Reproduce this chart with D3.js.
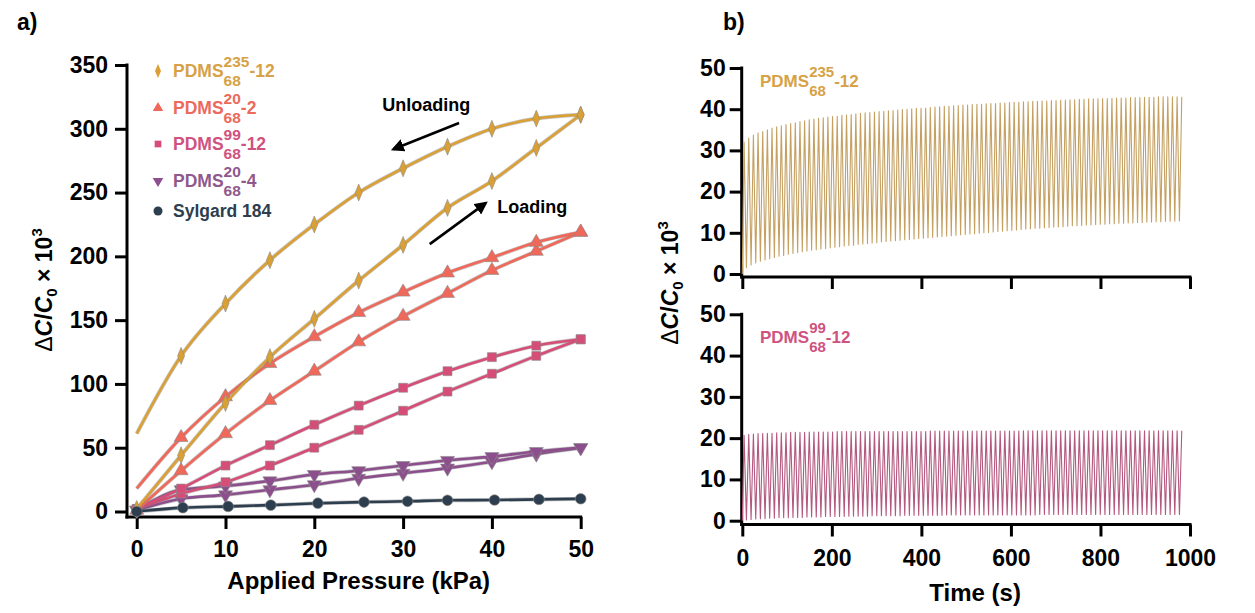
<!DOCTYPE html>
<html>
<head>
<meta charset="utf-8">
<script src="https://cdn.jsdelivr.net/npm/d3@7"></script>
<style>
  body { margin: 0; background: #fff; }
  text { font-family: Arial, "Liberation Sans", Helvetica, sans-serif; }
</style>
</head>
<body>
<svg id="fig" width="1255" height="613"></svg>
<script>
// ---- panel a) data: capacitance change vs pressure ----
const pressureKPa = [0, 5, 10, 15, 20, 25, 30, 35, 40, 45, 50];
const sylgardPressure = [0, 5.2, 10.3, 15.1, 20.4, 25.6, 30.5, 35, 40.3, 45.3, 50];

const pdms235Loading   = [2, 44, 85, 121, 151, 181, 209, 238, 259, 285, 311];
const pdms235Unloading = [61, 122, 163, 197, 225, 250, 269, 286, 300, 308, 311];
const pdms20x2Loading   = [1, 32, 61, 87, 110, 133, 153, 171, 189, 204, 219];
const pdms20x2Unloading = [18, 58, 90, 116, 137, 156, 172, 187, 199, 211, 219];
const pdms99Loading   = [2, 14, 23, 36, 50, 64, 79, 94, 108, 122, 135];
const pdms99Unloading = [2, 18, 36, 52, 68, 83, 97, 110, 121, 130, 135];
const pdms20x4Loading   = [1, 10, 13, 17, 21, 26, 30, 34, 39, 45, 50];
const pdms20x4Unloading = [1, 17, 20, 24, 29, 32, 36, 40, 43, 47, 50];
const sylgardValues = [0, 3, 4, 5, 6.5, 7.4, 8, 8.8, 9, 9.5, 10];

const pressureTicks = [0, 10, 20, 30, 40, 50];
const dcTicksA = [0, 50, 100, 150, 200, 250, 300, 350];

// ---- panel b) data: cyclic loading, per-cycle peaks and troughs ----
const cycleStart = 4;      // s, first peak
const cyclePeriod = 10.4;  // s
const timeTicks = [0, 200, 400, 600, 800, 1000];
const dcTicksB = [0, 10, 20, 30, 40, 50];

const pdms235Peaks = [
  32.0, 33.0, 33.7, 34.2, 34.6, 35.0, 35.4, 35.7, 36.0, 36.3,
  36.5, 36.7, 37.0, 37.2, 37.4, 37.6, 37.8, 37.9, 38.1, 38.2,
  38.3, 38.5, 38.6, 38.7, 38.9, 39.0, 39.1, 39.2, 39.3, 39.4,
  39.5, 39.6, 39.7, 39.8, 39.9, 40.0, 40.1, 40.2, 40.2, 40.3,
  40.4, 40.5, 40.6, 40.7, 40.7, 40.8, 40.9, 41.0, 41.0, 41.1,
  41.2, 41.2, 41.3, 41.4, 41.4, 41.5, 41.5, 41.6, 41.7, 41.7,
  41.8, 41.8, 41.9, 41.9, 42.0, 42.0, 42.1, 42.1, 42.2, 42.2,
  42.3, 42.3, 42.4, 42.4, 42.5, 42.5, 42.5, 42.6, 42.6, 42.6,
  42.7, 42.7, 42.7, 42.8, 42.8, 42.8, 42.9, 42.9, 42.9, 43.0,
  43.0, 43.0, 43.0, 43.0, 43.0
];
const pdms235Troughs = [
  1.5, 2.2, 2.7, 3.1, 3.4, 3.7, 4.0, 4.3, 4.5, 4.8,
  5.0, 5.2, 5.4, 5.6, 5.8, 5.9, 6.1, 6.2, 6.4, 6.5,
  6.6, 6.8, 6.9, 7.0, 7.2, 7.3, 7.4, 7.5, 7.6, 7.8,
  7.9, 8.0, 8.1, 8.2, 8.3, 8.4, 8.5, 8.6, 8.7, 8.8,
  8.9, 9.0, 9.1, 9.2, 9.3, 9.4, 9.5, 9.6, 9.7, 9.8,
  9.9, 10.0, 10.1, 10.2, 10.3, 10.4, 10.5, 10.6, 10.7, 10.8,
  10.9, 11.0, 11.1, 11.1, 11.2, 11.3, 11.4, 11.4, 11.5, 11.6,
  11.7, 11.7, 11.8, 11.9, 11.9, 12.0, 12.1, 12.1, 12.2, 12.2,
  12.3, 12.3, 12.4, 12.4, 12.5, 12.5, 12.6, 12.6, 12.7, 12.7,
  12.8, 12.8, 12.8, 12.9, 12.9
];
const pdms99Peaks = [
  20.7, 20.9, 21.0, 21.1, 21.1, 21.2, 21.2, 21.3, 21.3, 21.3,
  21.4, 21.4, 21.4, 21.4, 21.5, 21.5, 21.5, 21.5, 21.5, 21.5,
  21.6, 21.6, 21.6, 21.6, 21.6, 21.6, 21.6, 21.6, 21.6, 21.6,
  21.6, 21.6, 21.6, 21.6, 21.6, 21.6, 21.6, 21.6, 21.6, 21.6,
  21.7, 21.7, 21.7, 21.7, 21.7, 21.7, 21.7, 21.7, 21.7, 21.7,
  21.7, 21.7, 21.7, 21.7, 21.7, 21.7, 21.7, 21.7, 21.7, 21.7,
  21.8, 21.8, 21.8, 21.8, 21.8, 21.8, 21.8, 21.8, 21.8, 21.8,
  21.8, 21.8, 21.8, 21.8, 21.8, 21.8, 21.8, 21.8, 21.8, 21.8,
  21.8, 21.8, 21.8, 21.8, 21.8, 21.8, 21.8, 21.8, 21.8, 21.8,
  21.8, 21.8, 21.8, 21.8, 21.8
];
const pdms99Troughs = [
  0.2, 0.3, 0.4, 0.5, 0.5, 0.6, 0.6, 0.7, 0.7, 0.7,
  0.8, 0.8, 0.8, 0.9, 0.9, 0.9, 0.9, 1.0, 1.0, 1.0,
  1.0, 1.0, 1.1, 1.1, 1.1, 1.1, 1.1, 1.2, 1.2, 1.2,
  1.2, 1.2, 1.2, 1.2, 1.3, 1.3, 1.3, 1.3, 1.3, 1.3,
  1.3, 1.3, 1.3, 1.4, 1.4, 1.4, 1.4, 1.4, 1.4, 1.4,
  1.4, 1.4, 1.4, 1.4, 1.4, 1.4, 1.4, 1.4, 1.4, 1.4,
  1.4, 1.4, 1.4, 1.5, 1.5, 1.5, 1.5, 1.5, 1.5, 1.5,
  1.5, 1.5, 1.5, 1.5, 1.5, 1.5, 1.5, 1.5, 1.5, 1.5,
  1.5, 1.5, 1.5, 1.5, 1.5, 1.5, 1.5, 1.5, 1.5, 1.5,
  1.5, 1.5, 1.5, 1.5, 1.5
];

const colors = {
  p235: '#dba034', p20x2: '#f0685a', p99: '#d64d78', p20x4: '#8c4e8c', syl: '#2d3e4e'
};
const textColors = {
  p235: '#d6a245', p20x2: '#ec6a5c', p99: '#cf5280', p20x4: '#8f598d', syl: '#2e3e4e'
};

const svg = d3.select('#fig');

// ---------- helpers ----------
function styleAxis(g, size) {
  g.select('.domain').remove();
  g.selectAll('.tick line').attr('stroke', '#000').attr('stroke-width', 3);
  g.selectAll('.tick text')
    .attr('fill', '#000')
    .attr('font-size', size)
    .attr('font-weight', 'bold')
    .attr('font-family', 'Arial, "Liberation Sans", sans-serif');
}

function axisLine(x1, y1, x2, y2) {
  svg.append('line')
    .attr('x1', x1).attr('y1', y1).attr('x2', x2).attr('y2', y2)
    .attr('stroke', '#000').attr('stroke-width', 3).attr('stroke-linecap', 'square');
}

function yLabel(x, y) {
  const t = svg.append('text')
    .attr('transform', `translate(${x},${y}) rotate(-90)`)
    .attr('text-anchor', 'middle')
    .attr('font-size', 23)
    .attr('font-weight', 'bold')
    .attr('fill', '#000');
  t.append('tspan').attr('font-weight', 'normal').text('\u0394');
  t.append('tspan').attr('font-style', 'italic').text('C');
  t.append('tspan').text('/');
  t.append('tspan').attr('font-style', 'italic').text('C');
  t.append('tspan').attr('font-size', 15).attr('dy', 5).text('0');
  t.append('tspan').attr('dy', -5).text(' \u00d7 10');
  t.append('tspan').attr('font-size', 15).attr('dy', -10).text('3');
}

// PDMS with stacked super/subscript
function chemLabel(x, y, sup, sub, suffix, color, size, subSize) {
  const g = svg.append('g')
    .attr('fill', color)
    .attr('font-weight', 'bold');
  const main = g.append('text').attr('x', x).attr('y', y).attr('font-size', size).text('PDMS');
  const w = main.node().getComputedTextLength();
  const s1 = g.append('text').attr('x', x + w).attr('y', y - size * 0.56)
    .attr('font-size', subSize).text(sup);
  const s2 = g.append('text').attr('x', x + w).attr('y', y + size * 0.5)
    .attr('font-size', subSize).text(sub);
  const w2 = Math.max(s1.node().getComputedTextLength(), s2.node().getComputedTextLength());
  g.append('text').attr('x', x + w + w2).attr('y', y).attr('font-size', size).text(suffix);
}

// marker shapes
function diamondPath(w, h) {
  return `M0,${-h / 2}L${w / 2},0L0,${h / 2}L${-w / 2},0Z`;
}
const markerPaths = {
  diamond: (s) => diamondPath(7 * s, 17 * s),
  triUp: (s) => d3.symbol(d3.symbolTriangle, 85 * s * s)(),
  square: (s) => d3.symbol(d3.symbolSquare, 80 * s * s)(),
  triDown: (s) => d3.symbol(d3.symbolTriangle, 85 * s * s)(),
  circle: (s) => d3.symbol(d3.symbolCircle, 90 * s * s)()
};

// ---------- panel a ----------
const xA = d3.scaleLinear().domain([0, 50]).range([136.7, 580.7]);
const yA = d3.scaleLinear().domain([0, 350]).range([511.5, 65]);

axisLine(127, yA(350), 127, 517);
axisLine(127, 517, xA(50), 517);

svg.append('g')
  .attr('transform', 'translate(127,0)')
  .call(d3.axisLeft(yA).tickValues(dcTicksA).tickSize(12).tickPadding(7))
  .call(g => styleAxis(g, 23));

svg.append('g')
  .attr('transform', 'translate(0,517)')
  .call(d3.axisBottom(xA).tickValues(pressureTicks).tickSize(12).tickPadding(12))
  .call(g => styleAxis(g, 23));

svg.append('text')
  .attr('x', xA(25)).attr('y', 589)
  .attr('text-anchor', 'middle')
  .attr('font-size', 24).attr('font-weight', 'bold')
  .text('Applied Pressure (kPa)');

yLabel(52, 290);

const seriesA = [
  { key: 'p20x4', shape: 'triDown', x: pressureKPa, curves: [pdms20x4Loading, pdms20x4Unloading], skip0: [false, false] },
  { key: 'p99', shape: 'square', x: pressureKPa, curves: [pdms99Loading, pdms99Unloading], skip0: [false, false] },
  { key: 'p20x2', shape: 'triUp', x: pressureKPa, curves: [pdms20x2Loading, pdms20x2Unloading], skip0: [false, true] },
  { key: 'p235', shape: 'diamond', x: pressureKPa, curves: [pdms235Loading, pdms235Unloading], skip0: [false, true] },
  { key: 'syl', shape: 'circle', x: sylgardPressure, curves: [sylgardValues], skip0: [false] }
];

const lineA = d3.line()
  .x(d => xA(d[0]))
  .y(d => yA(d[1]))
  .curve(d3.curveMonotoneX);

seriesA.forEach(s => {
  const g = svg.append('g');
  s.curves.forEach((vals, ci) => {
    const pts = s.x.map((p, i) => [p, vals[i]]);
    g.append('path')
      .attr('d', lineA(pts))
      .attr('fill', 'none')
      .attr('stroke', '#7a7a7a')
      .attr('stroke-opacity', 0.45)
      .attr('stroke-width', 4);
    g.append('path')
      .attr('d', lineA(pts))
      .attr('fill', 'none')
      .attr('stroke', colors[s.key])
      .attr('stroke-width', 2.6);
    const markPts = s.skip0[ci] ? pts.slice(1) : pts;
    g.selectAll(null)
      .data(markPts)
      .join('path')
      .attr('d', markerPaths[s.shape](1))
      .attr('transform', d => `translate(${xA(d[0])},${yA(d[1])})${s.shape === 'triDown' ? ' rotate(180)' : ''}`)
      .attr('fill', colors[s.key])
      .attr('stroke', '#8a8a8a')
      .attr('stroke-width', 0.6);
  });
});

// loading/unloading arrows
svg.append('defs').append('marker')
  .attr('id', 'arrow')
  .attr('viewBox', '0 0 10 10')
  .attr('refX', 8).attr('refY', 5)
  .attr('markerWidth', 5).attr('markerHeight', 5)
  .attr('orient', 'auto')
  .append('path')
  .attr('d', 'M0,0L10,5L0,10Z')
  .attr('fill', '#000');

const arrows = [
  { from: [36.3, 304.5], to: [28.9, 284] },
  { from: [33, 209.6], to: [39.3, 241.7] }
];
arrows.forEach(a => {
  svg.append('line')
    .attr('x1', xA(a.from[0])).attr('y1', yA(a.from[1]))
    .attr('x2', xA(a.to[0])).attr('y2', yA(a.to[1]))
    .attr('stroke', '#000').attr('stroke-width', 2.6)
    .attr('marker-end', 'url(#arrow)');
});
svg.append('text')
  .attr('x', xA(32.6)).attr('y', 111)
  .attr('text-anchor', 'middle')
  .attr('font-size', 18).attr('font-weight', 'bold')
  .text('Unloading');
svg.append('text')
  .attr('x', xA(40.6)).attr('y', 213)
  .attr('font-size', 18).attr('font-weight', 'bold')
  .text('Loading');

// legend
const legendRows = [
  { key: 'p235', shape: 'diamond', sup: '235', sub: '68', suffix: '-12', y: 77 },
  { key: 'p20x2', shape: 'triUp', sup: '20', sub: '68', suffix: '-2', y: 114 },
  { key: 'p99', shape: 'square', sup: '99', sub: '68', suffix: '-12', y: 150 },
  { key: 'p20x4', shape: 'triDown', sup: '20', sub: '68', suffix: '-4', y: 187 }
];
legendRows.forEach(r => {
  svg.append('path')
    .attr('d', r.shape === 'diamond' ? diamondPath(6, 14) : markerPaths[r.shape](0.75))
    .attr('transform', `translate(158,${r.y - 6})${r.shape === 'triDown' ? ' rotate(180)' : ''}`)
    .attr('fill', colors[r.key]);
  chemLabel(173, r.y, r.sup, r.sub, r.suffix, textColors[r.key], 17.5, 15.5);
});
svg.append('circle').attr('cx', 158).attr('cy', 211).attr('r', 4.5).attr('fill', colors.syl);
svg.append('text')
  .attr('x', 173).attr('y', 217)
  .attr('fill', textColors.syl)
  .attr('font-size', 17.5).attr('font-weight', 'bold')
  .text('Sylgard 184');

// ---------- panel b ----------
const xB = d3.scaleLinear().domain([0, 1000]).range([742.3, 1190]);
const yTop = d3.scaleLinear().domain([0, 50]).range([274, 68]);
const yBot = d3.scaleLinear().domain([0, 50]).range([520.7, 314.3]);

function cyclePoints(peaks, troughs) {
  const pts = [[0, 0]];
  peaks.forEach((p, i) => {
    const t = cycleStart + i * cyclePeriod;
    pts.push([t, p]);
    if (i < troughs.length - 1) pts.push([t + cyclePeriod / 2, troughs[i]]);
  });
  return pts;
}

function cyclePanel(yScale, axisY, peaks, troughs, color, showLabels) {
  axisLine(741.7, yScale(50), 741.7, axisY);
  axisLine(741.7, axisY, xB(1000), axisY);
  svg.append('g')
    .attr('transform', 'translate(741.7,0)')
    .call(d3.axisLeft(yScale).tickValues(dcTicksB).tickSize(12).tickPadding(4))
    .call(g => styleAxis(g, 23));
  const xAxis = d3.axisBottom(xB).tickValues(timeTicks).tickSize(12).tickPadding(13)
    .tickFormat(showLabels ? d3.format('d') : '');
  svg.append('g')
    .attr('transform', `translate(0,${axisY})`)
    .call(xAxis)
    .call(g => styleAxis(g, 23));

  const line = d3.line().x(d => xB(d[0])).y(d => yScale(d[1]));
  svg.append('path')
    .attr('d', line(cyclePoints(peaks, troughs)))
    .attr('fill', 'none')
    .attr('stroke', color)
    .attr('stroke-width', 1.1)
    .attr('stroke-linejoin', 'round');
}

cyclePanel(yTop, 277, pdms235Peaks, pdms235Troughs, '#c4a062', false);
cyclePanel(yBot, 524.5, pdms99Peaks, pdms99Troughs, '#b3587e', true);

chemLabel(760, 87, '235', '68', '-12', textColors.p235, 17, 15);
chemLabel(760, 343, '99', '68', '-12', textColors.p99, 17, 15);

svg.append('text')
  .attr('x', xB(520)).attr('y', 601)
  .attr('text-anchor', 'middle')
  .attr('font-size', 24).attr('font-weight', 'bold')
  .text('Time (s)');

yLabel(678, 283);

// panel letters
svg.append('text').attr('x', 17).attr('y', 30).attr('font-size', 23).attr('font-weight', 'bold').text('a)');
svg.append('text').attr('x', 723).attr('y', 30).attr('font-size', 23).attr('font-weight', 'bold').text('b)');
</script>
</body>
</html>
